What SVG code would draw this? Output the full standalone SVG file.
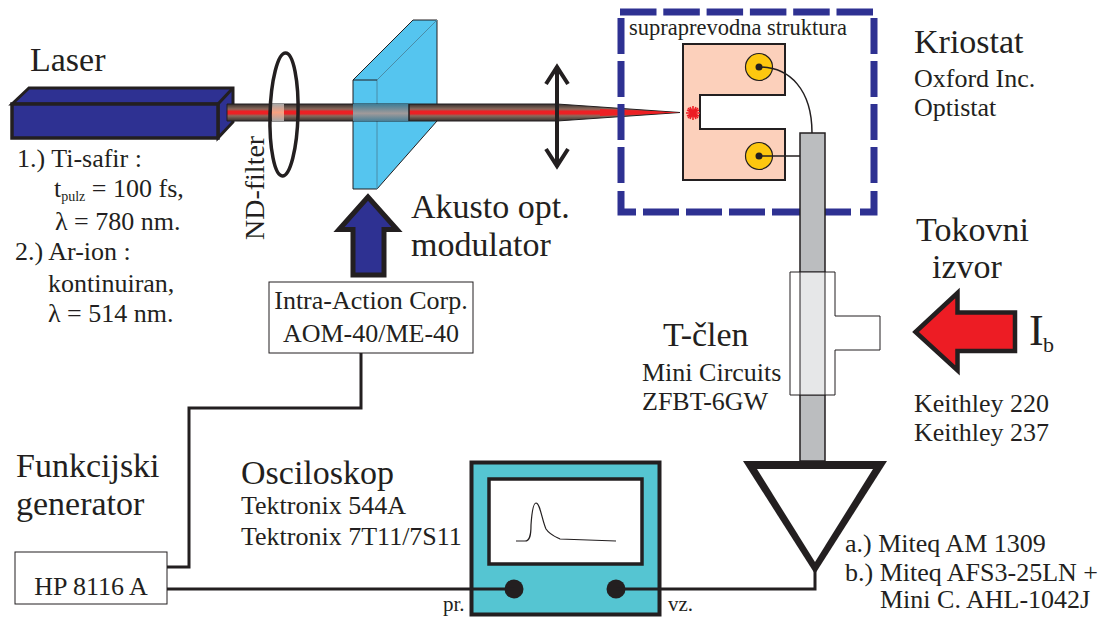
<svg xmlns="http://www.w3.org/2000/svg" width="1107" height="617" viewBox="0 0 1107 617">
<style>
text{font-family:"Liberation Serif",serif;fill:#231f20}
.xl{font-size:34px}.l{font-size:26px}.s{font-size:21px}
.k{stroke:#231f20;fill:none}
.d{stroke:#2e3192;stroke-width:7;fill:none}
</style>
<defs>
<linearGradient id="beam" x1="0" y1="0" x2="0" y2="1">
<stop offset="0" stop-color="#352f2d"/><stop offset="0.3" stop-color="#8a6a5c"/><stop offset="0.43" stop-color="#ed2024"/><stop offset="0.57" stop-color="#ed2024"/><stop offset="0.7" stop-color="#8a6a5c"/><stop offset="1" stop-color="#352f2d"/>
</linearGradient>
<linearGradient id="beamNd" x1="0" y1="0" x2="0" y2="1">
<stop offset="0" stop-color="#a8a8a8"/><stop offset="0.5" stop-color="#f8a080"/><stop offset="1" stop-color="#a8a8a8"/>
</linearGradient>
<linearGradient id="beamAom" x1="0" y1="0" x2="0" y2="1">
<stop offset="0" stop-color="#3f7d96"/><stop offset="0.55" stop-color="#a09a9a"/><stop offset="1" stop-color="#4c8096"/>
</linearGradient>
</defs>
<g id="laser">
<path d="M12 104L29 88H233V122L218 138V104Z" fill="#2e3192" stroke="#231f20" stroke-width="3"/>
<path d="M218 104L233 88" class="k" stroke-width="3"/>
<rect x="12" y="104" width="206" height="34" fill="#2e3192" stroke="#231f20" stroke-width="3.5"/>
<text class="xl" x="30" y="71">Laser</text>
<text class="l" x="17" y="167">1.) Ti-safir :</text>
<text class="l" x="54" y="197">t<tspan font-size="14" dy="4">pulz</tspan><tspan dy="-4"> = 100 fs,</tspan></text>
<text class="l" x="55" y="230">λ = 780 nm.</text>
<text class="l" x="15" y="260">2.) Ar-ion :</text>
<text class="l" x="48" y="292">kontinuiran,</text>
<text class="l" x="48" y="322">λ = 514 nm.</text>
</g>
<g id="modulator">
<path d="M353 80L413 20H437V121L377 189H353Z" fill="#55c5ef" stroke="#231f20" stroke-width="1"/>
<path d="M377 80L437 20M377 80V189" stroke="#4a8ca8" stroke-width="1" fill="none"/>
<path d="M353 80H377" stroke="#231f20" stroke-width="1"/>
<text class="xl" x="411" y="218">Akusto opt.</text>
<text class="xl" x="411" y="256">modulator</text>
</g>
<g id="beam-path">
<path d="M227 104H557L680 112.500L557 121H227Z" fill="url(#beam)" stroke="#231f20" stroke-width="1"/>
<rect x="272" y="104" width="12" height="17" fill="url(#beamNd)"/>
<rect x="353" y="104" width="56" height="17" fill="url(#beamAom)"/>
<path d="M409 104V121" stroke="#231f20" stroke-width="1.500"/>
<path d="M680 112.500L600 109V116Z" fill="#ed2024"/>
</g>
<g id="nd-filter">
<ellipse cx="284" cy="114.500" rx="14" ry="61.500" fill="none" stroke="#231f20" stroke-width="3.500" transform="rotate(1.500 284 114.500)"/>
<text style="font-size:28px" transform="translate(264 240) rotate(-90)">ND-filter</text>
</g>
<g id="lens">
<path d="M557 66V167M546 84L557 67L568 84M546 149L557 166L568 149" class="k" stroke-width="4"/>
</g>
<g id="aom-arrow">
<path d="M368 197L339 229.500H353V275H384V229.500H397Z" fill="#2e3192" stroke="#231f20" stroke-width="5"/>
</g>
<g id="aom-driver">
<rect x="269" y="282" width="204" height="71" fill="#fff" stroke="#231f20" stroke-width="1"/>
<text class="l" x="371" y="309" text-anchor="middle">Intra-Action Corp.</text>
<text class="l" x="371" y="342" text-anchor="middle">AOM-40/ME-40</text>
</g>
<g id="cryostat">
<path d="M620 12H873" class="d" stroke-dasharray="36.500 6.800"/>
<path d="M621 18V184" class="d" stroke-dasharray="36 7"/>
<path d="M621 191V212H636" class="d"/>
<path d="M874 18V184" class="d" stroke-dasharray="36 7"/>
<path d="M874 191V212H860" class="d"/>
<path d="M643 212H855" class="d" stroke-dasharray="36 7"/>
<text style="font-size:22.500px" x="629" y="35">supraprevodna struktura</text>
<text class="xl" x="914" y="53">Kriostat</text>
<text class="l" x="914" y="87">Oxford Inc.</text>
<text class="l" x="914" y="116">Optistat</text>
</g>
<g id="sample">
<path d="M683 44H785V95H700V129H785V180H683Z" fill="#fcd0bb" stroke="#231f20" stroke-width="2"/>
<circle cx="759" cy="67" r="13.500" fill="#fdc70f" stroke="#231f20" stroke-width="1.200"/>
<circle cx="759" cy="156" r="13.500" fill="#fdc70f" stroke="#231f20" stroke-width="1.200"/>
<circle cx="759" cy="67" r="3.500" fill="#231f20"/>
<circle cx="759" cy="156" r="3.500" fill="#231f20"/>
<path d="M686 113H700M693 106V120M688 108L698 118M698 108L688 118M690 107L696 119M696 107L690 119M687 110L699 116M699 110L687 116" stroke="#ed1c24" stroke-width="1.600" fill="none"/>
</g>
<g id="t-member">
<rect x="800" y="133" width="25" height="328" fill="#bbbdbf" stroke="#231f20" stroke-width="1.500"/>
<path d="M790 272H835V316H880V350H835V395H790Z" fill="#fff" stroke="#231f20" stroke-width="1"/>
<rect x="800" y="272" width="25" height="123" fill="#e6e7e8" stroke="#231f20" stroke-width="1"/>
<text class="xl" x="663" y="346">T-člen</text>
<text class="l" x="642" y="381">Mini Circuits</text>
<text class="l" x="642" y="410">ZFBT-6GW</text>
</g>
<g id="current-source">
<path d="M915.500 332L957.500 293V312.500H1015V351H957.500V370.500Z" fill="#ed1c24" stroke="#231f20" stroke-width="4.500"/>
<text class="xl" x="916" y="241">Tokovni</text>
<text class="xl" x="932" y="278">izvor</text>
<text style="font-size:44px" x="1029" y="345">I</text>
<text style="font-size:22px" x="1043" y="352">b</text>
<text class="l" x="914" y="412">Keithley 220</text>
<text class="l" x="914" y="441">Keithley 237</text>
</g>
<g id="amplifier">
<path d="M743 461H887L815 574Z" fill="#231f20"/>
<path d="M757 469H873L815 562Z" fill="#fff"/>
<text class="l" x="845" y="552">a.) Miteq AM 1309</text>
<text class="l" x="845" y="581">b.) Miteq AFS3-25LN +</text>
<text class="l" x="880" y="608">Mini C. AHL-1042J</text>
</g>
<g id="oscilloscope">
<rect x="471.500" y="462.500" width="188" height="152" fill="#55c5d2" stroke="#231f20" stroke-width="4"/>
<rect x="489" y="479" width="153" height="85" fill="#fff" stroke="#231f20" stroke-width="3.500"/>
<path d="M516 541H525C530 541 531 535 531 525C532 510 534 503 536 503C540 503 542 520 546 529C550 535 556 537 560 539L616 541" fill="none" stroke="#231f20" stroke-width="1.200"/>
<circle cx="514" cy="589" r="9.500" fill="#231f20"/>
<circle cx="616" cy="589" r="9.500" fill="#231f20"/>
<text style="font-size:21px" x="443" y="611">pr.</text>
<text style="font-size:21px" x="668" y="611">vz.</text>
<text class="xl" x="241" y="484">Osciloskop</text>
<text class="l" x="241" y="514">Tektronix 544A</text>
<text class="l" x="241" y="545">Tektronix 7T11/7S11</text>
</g>
<g id="generator">
<rect x="15" y="552" width="152" height="52" fill="#fff" stroke="#231f20" stroke-width="1"/>
<text class="l" x="91" y="595" text-anchor="middle">HP 8116 A</text>
<text class="xl" x="16" y="477">Funkcijski</text>
<text class="xl" x="16" y="515">generator</text>
</g>
<g id="connectors">
<path d="M361 353V408H189V567H167" class="k" stroke-width="3"/>
<path d="M167 589H514" class="k" stroke-width="3"/>
<path d="M616 589H815V570" class="k" stroke-width="3"/>
<path d="M759 67C790 67 812 90 812 133" class="k" stroke-width="1.500"/>
<path d="M759 156H800" class="k" stroke-width="1.500"/>
</g>
</svg>
